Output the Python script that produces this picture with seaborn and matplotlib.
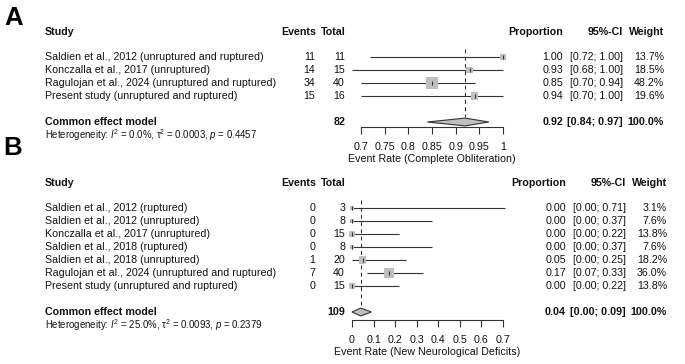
import numpy as np
import pandas as pd
import matplotlib.pyplot as plt
import seaborn as sns
from matplotlib.transforms import blended_transform_factory

W, H = 685, 364

# panel A: complete obliteration
studies_a = ["Saldien et al., 2012 (unruptured and ruptured)",
             "Konczalla et al., 2017 (unruptured)",
             "Ragulojan et al., 2024 (unruptured and ruptured)",
             "Present study (unruptured and ruptured)"]
events_a = [11, 14, 34, 15]
total_a = [11, 15, 40, 16]
prop_a = [1.00, 0.93, 0.85, 0.94]
lower_a = [0.72, 0.68, 0.70, 0.70]
upper_a = [1.00, 1.00, 0.94, 1.00]
weight_a = [13.7, 18.5, 48.2, 19.6]
common_a = [0.92, 0.84, 0.97]
n_a = 82
het_a = ["0.0%", "0.0003", "0.4457"]
ticks_a = [0.7, 0.75, 0.8, 0.85, 0.9, 0.95, 1.0]
ticklabels_a = ["0.7", "0.75", "0.8", "0.85", "0.9", "0.95", "1"]
xlabel_a = "Event Rate (Complete Obliteration)"

# panel B: new neurological deficits
studies_b = ["Saldien et al., 2012 (ruptured)",
             "Saldien et al., 2012 (unruptured)",
             "Konczalla et al., 2017 (unruptured)",
             "Saldien et al., 2018 (ruptured)",
             "Saldien et al., 2018 (unruptured)",
             "Ragulojan et al., 2024 (unruptured and ruptured)",
             "Present study (unruptured and ruptured)"]
events_b = [0, 0, 0, 0, 1, 7, 0]
total_b = [3, 8, 15, 8, 20, 40, 15]
prop_b = [0.00, 0.00, 0.00, 0.00, 0.05, 0.17, 0.00]
lower_b = [0.00, 0.00, 0.00, 0.00, 0.00, 0.07, 0.00]
upper_b = [0.71, 0.37, 0.22, 0.37, 0.25, 0.33, 0.22]
weight_b = [3.1, 7.6, 13.8, 7.6, 18.2, 36.0, 13.8]
common_b = [0.04, 0.00, 0.09]
n_b = 109
het_b = ["25.0%", "0.0093", "0.2379"]
ticks_b = [0, 0.1, 0.2, 0.3, 0.4, 0.5, 0.6, 0.7]
ticklabels_b = ["0", "0.1", "0.2", "0.3", "0.4", "0.5", "0.6", "0.7"]
xlabel_b = "Event Rate (New Neurological Deficits)"

sns.set_theme(style="white")
plt.rcParams["font.family"] = ["Liberation Sans", "DejaVu Sans"]
plt.rcParams["font.size"] = 7.7
plt.rcParams["text.color"] = "black"
plt.rcParams["mathtext.fontset"] = "custom"
plt.rcParams["mathtext.rm"] = "Liberation Sans"
plt.rcParams["mathtext.it"] = "Liberation Sans:italic"

FS = 7.7
ROW = 13  # px per row
LINE = "#333333"
TXT = "#111111"
FILL = "#bfbfbf"

fig = plt.figure(figsize=(W / 100, H / 100), dpi=100)


def draw_panel(studies, events, total, prop, lower, upper, weight, common, n, het,
               ticks, ticklabels, xlabel, x0_px, x1_px, first_px, axis_px, dx, max_area):
    xmin, xmax = ticks[0], ticks[-1]
    k = len(studies)
    common_row = k + 1
    axis_row = (axis_px - first_px) / ROW
    top_row = -2.5
    ax = fig.add_axes([x0_px / W, (H - axis_px) / H, (x1_px - x0_px) / W,
                       (axis_px - (first_px + top_row * ROW)) / H])
    ax.set_xlim(xmin, xmax)
    ax.set_ylim(axis_row, top_row)
    rows = np.arange(k)

    df = pd.DataFrame({"prop": prop, "row": rows, "weight": weight})
    ax.hlines(rows, lower, upper, color=LINE, lw=0.8, clip_on=False, zorder=1)
    sns.scatterplot(data=df, x="prop", y="row", size="weight", sizes=(0, max_area),
                    size_norm=(0, max(weight)), marker="s", color=FILL, linewidth=0,
                    legend=False, ax=ax, clip_on=False, zorder=2)
    ax.plot(prop, rows, ls="none", marker="|", ms=3.5, mew=0.8, color=LINE,
            clip_on=False, zorder=3)

    c, lo, hi = common
    h = 0.3
    ax.fill([lo, c, hi, c], [common_row, common_row - h, common_row, common_row + h],
            facecolor=FILL, edgecolor=LINE, lw=0.8, clip_on=False, zorder=3)
    ax.vlines(c, -0.6, common_row - 0.35, color=LINE, lw=0.8, ls=(0, (3.5, 3)), zorder=1)

    for s in ["top", "right", "left"]:
        ax.spines[s].set_visible(False)
    ax.spines["bottom"].set_color(LINE)
    ax.spines["bottom"].set_linewidth(0.8)
    ax.set_xticks(ticks)
    ax.set_xticklabels(ticklabels)
    ax.set_yticks([])
    ax.tick_params(axis="x", bottom=True, direction="out", length=5, width=0.8,
                   color=LINE, pad=6, labelsize=FS, labelcolor=TXT)
    ax.set_xlabel(xlabel, fontsize=FS, labelpad=1.5, color=TXT)
    ax.set_ylabel("")
    ax.patch.set_alpha(0)

    tr = blended_transform_factory(fig.transFigure, ax.transData)
    kw = dict(transform=tr, va="center", clip_on=False, color=TXT)
    bold = dict(kw, fontweight="bold")
    head = -1.9
    ax.text(45 / W, head, "Study", ha="left", **bold)
    ax.text(316 / W, head, "Events", ha="right", **bold)
    ax.text(346 / W, head, "Total", ha="right", **bold)
    ax.text((563 + dx) / W, head, "Proportion", ha="right", **bold)
    ax.text((623 + dx) / W, head, "95%-CI", ha="right", **bold)
    ax.text((664 + dx) / W, head, "Weight", ha="right", **bold)
    for i in range(k):
        ax.text(45 / W, i, studies[i], ha="left", **kw)
        ax.text(315 / W, i, str(events[i]), ha="right", **kw)
        ax.text(345 / W, i, str(total[i]), ha="right", **kw)
        ax.text((563 + dx) / W, i, f"{prop[i]:.2f}", ha="right", **kw)
        ax.text((623 + dx) / W, i, f"[{lower[i]:.2f}; {upper[i]:.2f}]", ha="right", **kw)
        ax.text((664 + dx) / W, i, f"{weight[i]:.1f}%", ha="right", **kw)
    ax.text(45 / W, common_row, "Common effect model", ha="left", **bold)
    ax.text(345 / W, common_row, str(n), ha="right", **bold)
    ax.text((563 + dx) / W, common_row, f"{c:.2f}", ha="right", **bold)
    ax.text((623 + dx) / W, common_row, f"[{lo:.2f}; {hi:.2f}]", ha="right", **bold)
    ax.text((664 + dx) / W, common_row, "100.0%", ha="right", **bold)
    ax.text(45 / W, common_row + 1,
            "Heterogeneity: $I^2$ = " + het[0] +
            ", τ$^2$ = " + het[1] + ", $p$ = " + het[2],
            ha="left", fontsize=6.9, **kw)
    return ax


draw_panel(studies_a, events_a, total_a, prop_a, lower_a, upper_a, weight_a, common_a,
           n_a, het_a, ticks_a, ticklabels_a, xlabel_a, 361, 503, 57, 127, 0, 63)
draw_panel(studies_b, events_b, total_b, prop_b, lower_b, upper_b, weight_b, common_b,
           n_b, het_b, ticks_b, ticklabels_b, xlabel_b, 352, 503, 208, 320, 3, 55)

fig.text(4 / W, 1 - 18 / H, "A", fontsize=18.5, fontweight="bold", va="center",
         ha="left", color="black")
fig.text(3 / W, 1 - 148 / H, "B", fontsize=18.5, fontweight="bold", va="center",
         ha="left", color="black")

fig.savefig("out.png", dpi=100)
